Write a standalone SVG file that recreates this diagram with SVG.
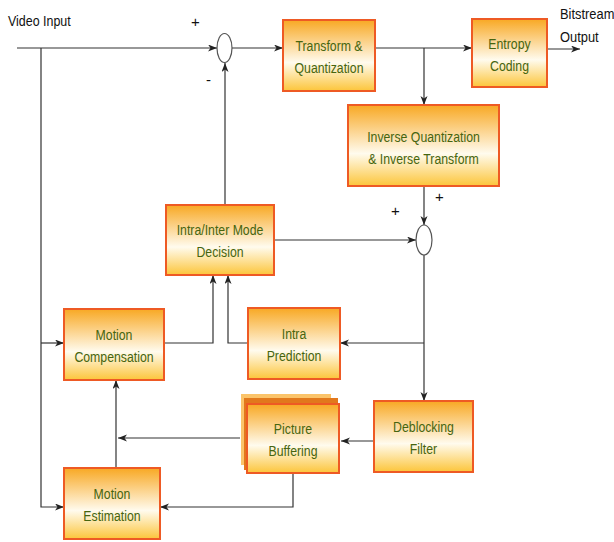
<svg xmlns="http://www.w3.org/2000/svg" width="614" height="542" viewBox="0 0 614 542">
<defs>
<linearGradient id="g" x1="0" y1="0" x2="0" y2="1">
<stop offset="0" stop-color="#f8a823"/>
<stop offset="0.6" stop-color="#fffbee"/>
<stop offset="1" stop-color="#fcc53a"/>
</linearGradient>
<marker id="a" markerUnits="userSpaceOnUse" markerWidth="10" markerHeight="8" refX="9" refY="3.5" orient="auto">
<path d="M0,0 L9,3.5 L0,7 L2.5,3.5 z" fill="#222"/>
</marker>
<style>
.box{fill:url(#g);stroke:#ee5a24;stroke-width:2}
.t{font-family:"Liberation Sans",Arial,sans-serif;font-size:15px;fill:#46650f;text-anchor:middle}
.k{font-family:"Liberation Sans",Arial,sans-serif;font-size:15px;fill:#111}
.c{fill:none;stroke:#333;stroke-width:1.2}
.c2{fill:none;stroke:#333;stroke-width:1.2;marker-end:url(#a)}
.circ{fill:#fff;stroke:#555;stroke-width:1.2}
</style>
</defs>
<rect width="614" height="542" fill="#fff"/>

<g id="connectors">
<path class="c2" d="M17,48 H217"/>
<path class="c2" d="M232,48 H283"/>
<path class="c2" d="M375,48 H472"/>
<path class="c2" d="M547,49 H580"/>
<path class="c2" d="M424,48 V105"/>
<path class="c2" d="M424,186 V225"/>
<path class="c2" d="M274,240 H416"/>
<path class="c2" d="M225,205 V63"/>
<path class="c2" d="M424,255 V401"/>
<path class="c2" d="M424,343 H340"/>
<path class="c2" d="M248,343 H228 V275"/>
<path class="c2" d="M164,343 H213 V275"/>
<path class="c2" d="M41,48 V507 H64"/>
<path class="c2" d="M41,343 H64"/>
<path class="c2" d="M374,441 H341"/>
<path class="c2" d="M240,438 H118"/>
<path class="c2" d="M116,468 V380"/>
<path class="c2" d="M293,473 V507 H160"/>
</g>

<g id="sum1"><ellipse class="circ" cx="224.5" cy="48" rx="7.5" ry="14.5"/></g>
<g id="sum2"><ellipse class="circ" cx="424" cy="240" rx="8" ry="15"/></g>

<g id="labels">
<text class="k" transform="translate(8 26) scale(0.83 1)">Video Input</text>
<text class="k" transform="translate(560 19) scale(0.86 1)" font-size="14">Bitstream</text>
<text class="k" transform="translate(560 42) scale(0.86 1)" font-size="14">Output</text>
<text class="k" x="191" y="27" font-size="14">+</text>
<text class="k" x="206" y="85" font-size="14">-</text>
<text class="k" x="391" y="216" font-size="14">+</text>
<text class="k" x="435" y="202" font-size="14">+</text>
</g>

<g id="transform">
<rect class="box" x="283" y="20" width="92" height="71"/>
<text class="t" transform="translate(329 51) scale(0.82 1)">Transform &amp;</text>
<text class="t" transform="translate(329 73) scale(0.82 1)">Quantization</text>
</g>

<g id="entropy">
<rect class="box" x="472" y="19" width="75" height="68"/>
<text class="t" transform="translate(509.5 49) scale(0.82 1)">Entropy</text>
<text class="t" transform="translate(509.5 71) scale(0.82 1)">Coding</text>
</g>

<g id="inverse">
<rect class="box" x="348" y="105" width="151" height="81"/>
<text class="t" transform="translate(423.5 142) scale(0.82 1)">Inverse Quantization</text>
<text class="t" transform="translate(423.5 164) scale(0.82 1)">&amp; Inverse Transform</text>
</g>

<g id="modedecision">
<rect class="box" x="166" y="205" width="108" height="70"/>
<text class="t" transform="translate(220 235) scale(0.82 1)">Intra/Inter Mode</text>
<text class="t" transform="translate(220 257) scale(0.82 1)">Decision</text>
</g>

<g id="motioncomp">
<rect class="box" x="64" y="309" width="100" height="71"/>
<text class="t" transform="translate(114 340) scale(0.82 1)">Motion</text>
<text class="t" transform="translate(114 362) scale(0.82 1)">Compensation</text>
</g>

<g id="intrapred">
<rect class="box" x="248" y="308" width="92" height="71"/>
<text class="t" transform="translate(294 339) scale(0.82 1)">Intra</text>
<text class="t" transform="translate(294 361) scale(0.82 1)">Prediction</text>
</g>

<g id="deblocking">
<rect class="box" x="374" y="401" width="99" height="71"/>
<text class="t" transform="translate(423.5 432) scale(0.82 1)">Deblocking</text>
<text class="t" transform="translate(423.5 454) scale(0.82 1)">Filter</text>
</g>

<g id="buffering">
<rect x="241" y="394" width="90" height="71" fill="#fbc46a"/>
<rect x="244" y="398" width="94" height="72" fill="#e2781c"/>
<rect class="box" x="247" y="404" width="92" height="69"/>
<text class="t" transform="translate(293 434) scale(0.82 1)">Picture</text>
<text class="t" transform="translate(293 456) scale(0.82 1)">Buffering</text>
</g>

<g id="motionest">
<rect class="box" x="64" y="468" width="96" height="71"/>
<text class="t" transform="translate(112 499) scale(0.82 1)">Motion</text>
<text class="t" transform="translate(112 521) scale(0.82 1)">Estimation</text>
</g>
</svg>
